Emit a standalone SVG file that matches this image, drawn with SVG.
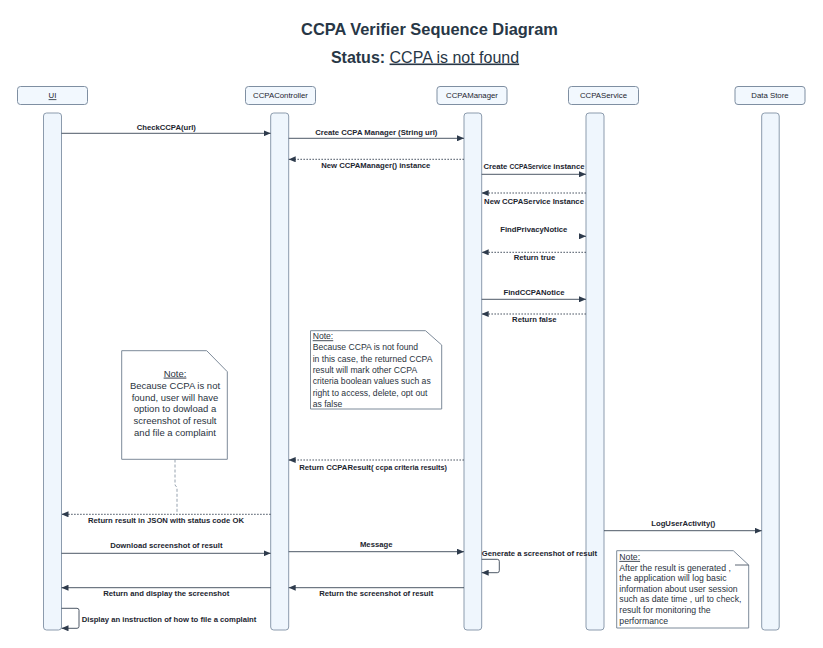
<svg xmlns="http://www.w3.org/2000/svg" width="823" height="648" viewBox="0 0 823 648">
<defs>
<marker id="ah" viewBox="0 0 7 6" refX="7" refY="3" markerWidth="7" markerHeight="6" markerUnits="userSpaceOnUse" orient="auto">
<path d="M0,0 L7,3 L0,6 z" fill="#2e3b4c"/>
</marker>
<style>
text{font-family:"Liberation Sans",Arial,sans-serif;fill:#1c2530}
.title{font-size:16.4px;font-weight:bold;fill:#283746}
.status{font-size:16px;fill:#283746}
.hdr{fill:#f2f8fe;stroke:#7f8fa2;stroke-width:1}
.hl{font-size:7.8px;text-anchor:middle}
.bar{fill:#eff6fd;stroke:#8c9bad;stroke-width:1}
.msg{font-size:7.7px;font-weight:bold;text-anchor:middle}
.ml{font-size:7.7px;font-weight:bold}
.ln{stroke:#3a4656;stroke-width:0.9;fill:none;marker-end:url(#ah)}
.dl{stroke:#3a4656;stroke-width:0.9;fill:none;stroke-dasharray:1.6 1.4;marker-end:url(#ah)}
.note{fill:#ffffff;stroke:#7d8a99;stroke-width:1}
.nt{font-size:8.6px;fill:#2a3340}
.nt1{font-size:9.5px;fill:#2a3340;text-anchor:middle}
.nt3{font-size:8.7px;fill:#2a3340}
</style>
</defs>
<rect width="823" height="648" fill="#ffffff"/>
<g id="title">
<text class="title" x="429.5" y="35" text-anchor="middle">CCPA Verifier Sequence Diagram</text>
<text class="status" x="425" y="62.5" text-anchor="middle"><tspan font-weight="bold">Status: </tspan><tspan text-decoration="underline">CCPA is not found</tspan></text>
</g>
<g id="UI">
<rect class="hdr" x="17.5" y="86.5" width="70" height="18" rx="3"/>
<text class="hl" x="52.5" y="98.3" text-decoration="underline">UI</text>
<rect class="bar" x="43.5" y="113" width="18" height="517" rx="3"/>
</g>
<g id="CCPAController">
<rect class="hdr" x="245.5" y="86.5" width="70" height="18" rx="3"/>
<text class="hl" x="280.5" y="98.3">CCPAController</text>
<rect class="bar" x="270.7" y="113" width="18" height="517" rx="3"/>
</g>
<g id="CCPAManager">
<rect class="hdr" x="437" y="86.5" width="70" height="18" rx="3"/>
<text class="hl" x="472" y="98.3">CCPAManager</text>
<rect class="bar" x="464" y="113" width="17.7" height="517" rx="3"/>
</g>
<g id="CCPAService">
<rect class="hdr" x="568.5" y="86.5" width="70" height="18" rx="3"/>
<text class="hl" x="603.5" y="98.3">CCPAService</text>
<rect class="bar" x="586" y="113" width="18" height="517" rx="3"/>
</g>
<g id="DataStore">
<rect class="hdr" x="735" y="86.5" width="70" height="18" rx="3"/>
<text class="hl" x="770" y="98.3">Data Store</text>
<rect class="bar" x="761.7" y="113" width="17.5" height="517" rx="3"/>
</g>
<g id="note-manager">
<path class="note" d="M310.5,330.7 H425.5 L441.7,345 V409 H310.5 Z"/>
<text class="nt" x="312.7" y="339.3" text-decoration="underline">Note:</text>
<text class="nt" x="312.7" y="350.3">Because CCPA is not found</text>
<text class="nt" x="312.7" y="361.6">in this case, the returned CCPA</text>
<text class="nt" x="312.7" y="372.9">result will mark other CCPA</text>
<text class="nt" x="312.7" y="384.2">criteria boolean values such as</text>
<text class="nt" x="312.7" y="395.5">right to access, delete, opt out</text>
<text class="nt" x="312.7" y="406.8">as false</text>
</g>
<g id="note-ui">
<path class="note" d="M121.7,350.7 H206.7 L227.3,371.7 V459.3 H121.7 Z"/>
<text class="nt1" x="175" y="376.6" text-decoration="underline">Note:</text>
<text class="nt1" x="175" y="388.8">Because CCPA is not</text>
<text class="nt1" x="175" y="400.6">found, user will have</text>
<text class="nt1" x="175" y="412.4">option to dowload a</text>
<text class="nt1" x="175" y="424.2">screenshot of result</text>
<text class="nt1" x="175" y="436">and file a complaint</text>
</g>
<g id="note-datastore">
<path class="note" d="M616.7,550.7 H733.3 L748.7,565 V628 H616.7 Z"/>
<line x1="735" y1="565" x2="748.7" y2="565" stroke="#4a5564" stroke-width="0.9"/>
<text class="nt3" x="619.3" y="559.9" text-decoration="underline">Note:</text>
<text class="nt3" x="619.3" y="570.6">After the result is generated ,</text>
<text class="nt3" x="619.3" y="581.2">the application will log basic</text>
<text class="nt3" x="619.3" y="591.8">information about user session</text>
<text class="nt3" x="619.3" y="602.4">such as date time , url to check,</text>
<text class="nt3" x="619.3" y="613">result for monitoring the</text>
<text class="nt3" x="619.3" y="623.6">performance</text>
</g>
<g id="connectors">
<path d="M175,459.5 V485 L177,487.5 V513" stroke="#8a97a6" stroke-width="0.9" fill="none" stroke-dasharray="3 2"/>
<path class="ln" d="M61.5,133.3 H270.7"/>
<text class="msg" x="166.3" y="129.5">CheckCCPA(url)</text>
<path class="ln" d="M288.7,138.3 H464"/>
<text class="msg" x="376.3" y="134.5">Create CCPA Manager (String url)</text>
<path class="dl" d="M464,159.3 H288.7"/>
<text class="msg" x="375.8" y="167.8">New CCPAManager() instance</text>
<path class="ln" d="M481.7,174.3 H586"/>
<text class="msg" x="534" y="168.5">Create <tspan font-size="6.6px">CCPAService</tspan> instance</text>
<path class="dl" d="M586,193 H481.7"/>
<text class="msg" x="534" y="203.5">New CCPAService Instance</text>
<path class="ln" d="M580,236.3 H586"/>
<text class="msg" x="533.8" y="231.8">FindPrivacyNotice</text>
<path class="dl" d="M586,252.3 H481.7"/>
<text class="msg" x="534.5" y="260">Return true</text>
<path class="ln" d="M481.7,299.3 H586"/>
<text class="msg" x="534" y="294.8">FindCCPANotice</text>
<path class="dl" d="M586,314 H481.7"/>
<text class="msg" x="534.3" y="322">Return false</text>
<path class="dl" d="M464,460 H288.7"/>
<text class="ml" x="299.3" y="469.5">Return CCPAResult( <tspan font-size="7.3px">ccpa criteria results)</tspan></text>
<path class="dl" d="M270.7,514.3 H61.5"/>
<text class="msg" x="166" y="522.8">Return result in JSON with status code OK</text>
<path class="ln" d="M604,530.7 H761.7"/>
<text class="msg" x="683.3" y="525.5">LogUserActivity()</text>
<path class="ln" d="M61.5,553.3 H270.7"/>
<text class="msg" x="166.3" y="548">Download screenshot of result</text>
<path class="ln" d="M288.7,551.7 H464"/>
<text class="msg" x="376.2" y="546.8">Message</text>
<path class="ln" d="M481.7,559.3 H497.3 Q499.3,559.3 499.3,561.3 V570.7 Q499.3,572.7 497.3,572.7 H481.7"/>
<text class="ml" x="481.7" y="555.5">Generate a screenshot of result</text>
<path class="ln" d="M270.7,587.7 H61.5"/>
<text class="msg" x="166.3" y="595.5">Return and display the screenshot</text>
<path class="ln" d="M464,587.7 H288.7"/>
<text class="msg" x="376.2" y="595.5">Return the screenshot of result</text>
<path class="ln" d="M61.5,608.3 H77 Q79,608.3 79,610.3 V626.3 Q79,628.3 77,628.3 H61.5"/>
<text class="ml" x="81.7" y="622">Display an instruction of how to file a complaint</text>
</g>
</svg>
